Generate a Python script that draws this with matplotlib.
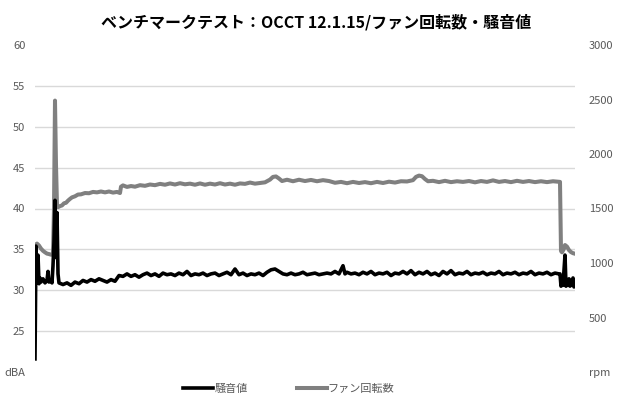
import matplotlib
matplotlib.use("Agg")
import matplotlib.pyplot as plt

plt.rcParams['font.family'] = ['Noto Sans CJK JP', 'DejaVu Sans']

title = "ベンチマークテスト：OCCT 12.1.15/ファン回転数・騒音値"
noise_label = "騒音値"
fan_label = "ファン回転数"

# left axis (dBA) ticks and right axis (rpm) ticks
db_ticks = [20, 25, 30, 35, 40, 45, 50, 55, 60]
db_ticklabels = ["dBA", "25", "30", "35", "40", "45", "50", "55", "60"]
rpm_ticks = [0, 500, 1000, 1500, 2000, 2500, 3000]
rpm_ticklabels = ["rpm", "500", "1000", "1500", "2000", "2500", "3000"]

# fan speed (rpm) over time
fan_t = [0, 1, 2, 4, 6, 8, 10, 12, 14, 16, 18, 19, 20, 21, 22, 23, 25, 27, 29, 31,
         33, 35, 37, 40, 43, 46, 50, 54, 58, 62, 66, 70, 74, 78, 82, 85, 86, 88, 92, 96,
         100, 105, 110, 115, 120, 125, 130, 135, 140, 145, 150, 155, 160, 165, 170, 175, 180, 185, 190, 195,
         200, 205, 210, 215, 220, 225, 230, 235, 238, 241, 244, 247, 252, 258, 264, 270, 276, 282, 288, 294,
         300, 306, 312, 318, 324, 330, 336, 342, 348, 354, 360, 366, 372, 378, 381, 384, 387, 390, 393, 398,
         404, 410, 416, 422, 428, 434, 440, 446, 452, 458, 464, 470, 476, 482, 488, 494, 500, 506, 512, 518,
         524, 525, 526, 527, 529, 530, 532, 534, 536, 538, 540]
fan_rpm = [1150, 1170, 1178, 1160, 1132, 1112, 1098, 1086, 1082, 1076, 1080, 1500, 2490, 1900, 1530, 1512, 1522, 1528, 1548, 1552,
           1572, 1588, 1602, 1612, 1628, 1630, 1642, 1640, 1652, 1648, 1656, 1648, 1656, 1646, 1652, 1642, 1700, 1712, 1698, 1706,
           1700, 1714, 1708, 1720, 1714, 1726, 1718, 1730, 1720, 1732, 1722, 1728, 1718, 1730, 1718, 1728, 1720, 1732, 1720, 1728,
           1718, 1730, 1726, 1738, 1728, 1734, 1740, 1765, 1790, 1794, 1775, 1752, 1764, 1750, 1764, 1752, 1762, 1750, 1760, 1752,
           1736, 1744, 1732, 1744, 1734, 1742, 1732, 1744, 1734, 1746, 1738, 1750, 1748, 1760, 1790, 1802, 1796, 1770, 1750, 1754,
           1742, 1754, 1742, 1750, 1744, 1752, 1740, 1752, 1744, 1758, 1744, 1752, 1742, 1754, 1744, 1752, 1742, 1750, 1742, 1750,
           1744, 1744, 1110, 1098, 1132, 1165, 1150, 1118, 1100, 1090, 1085]

# noise level (dBA) over time
noise_t = [0, 1, 2, 3, 4, 5, 6, 8, 10, 12, 13, 14, 16, 17, 18, 19, 20, 21, 22, 23,
           24, 28, 32, 36, 40, 44, 48, 52, 56, 60, 64, 68, 72, 76, 80, 84, 88, 92, 96, 100,
           104, 108, 112, 116, 120, 124, 128, 132, 136, 140, 144, 148, 152, 156, 160, 164, 168, 172, 176, 180,
           184, 188, 192, 196, 200, 204, 208, 212, 216, 220, 224, 228, 232, 236, 240, 244, 248, 252, 256, 260,
           264, 268, 272, 276, 280, 284, 288, 292, 296, 300, 304, 308, 310, 312, 316, 320, 324, 328, 332, 336,
           340, 344, 348, 352, 356, 360, 364, 368, 372, 376, 380, 384, 388, 392, 396, 400, 404, 408, 412, 416,
           420, 424, 428, 432, 436, 440, 444, 448, 452, 456, 460, 464, 468, 472, 476, 480, 484, 488, 492, 496,
           500, 504, 508, 512, 516, 520, 524, 525, 526, 527, 528, 529, 530, 531, 532, 533, 534, 535, 536, 537,
           538, 539, 540]
noise_db = [21.6, 35.4, 31.0, 34.3, 30.8, 31.5, 31.0, 31.4, 30.9, 31.2, 32.3, 31.0, 31.2, 30.9, 33.0, 36.0, 41.0, 34.0, 39.5, 32.0,
            30.9, 30.7, 30.9, 30.6, 31.0, 30.8, 31.2, 31.0, 31.3, 31.1, 31.4, 31.2, 31.0, 31.3, 31.1, 31.8, 31.7, 32.0, 31.7, 31.9,
            31.6, 31.9, 32.1, 31.8, 32.0, 31.7, 32.1, 31.9, 32.0, 31.8, 32.1, 31.9, 32.3, 31.8, 32.0, 31.9, 32.1, 31.8, 32.0, 32.1,
            31.8, 32.0, 32.2, 31.9, 32.6, 31.9, 32.1, 31.8, 32.0, 31.9, 32.1, 31.8, 32.2, 32.5, 32.6, 32.3, 32.0, 31.9, 32.1, 31.9,
            32.0, 32.2, 31.9, 32.0, 32.1, 31.9, 32.0, 32.1, 32.0, 32.3, 32.0, 33.0, 32.0, 32.2, 32.0, 32.1, 31.9, 32.2, 32.0, 32.3,
            31.9, 32.1, 32.0, 32.2, 31.8, 32.1, 32.0, 32.3, 32.0, 32.4, 31.9, 32.2, 32.0, 32.3, 31.9, 32.1, 31.8, 32.3, 32.0, 32.4,
            31.9, 32.1, 32.0, 32.3, 31.9, 32.1, 32.0, 32.2, 31.9, 32.1, 32.0, 32.3, 31.9, 32.1, 32.0, 32.2, 31.9, 32.1, 32.0, 32.3,
            31.9, 32.1, 32.0, 32.2, 31.9, 32.1, 32.0, 32.0, 30.5, 31.5, 30.6, 32.5, 34.3, 30.5, 31.3, 30.6, 31.4, 30.5, 31.2, 30.6,
            31.5, 30.4, 31.2]

TXT = "#595959"
fig = plt.figure(figsize=(6.2, 4.0), dpi=100)
ax = fig.add_axes([35 / 620, 28 / 400, 540 / 620, 327 / 400])
ax2 = ax.twinx()

ax.set_xlim(0, 540)
ax.set_ylim(20, 60)
ax2.set_ylim(0, 3000)

for a in (ax, ax2):
    for s in a.spines.values():
        s.set_visible(False)
    a.tick_params(length=0, colors=TXT, labelsize=8)
ax.set_xticks([])

ax.set_yticks(db_ticks)
ax.set_yticklabels(db_ticklabels)
ax.tick_params(axis='y', pad=7)
ax2.set_yticks(rpm_ticks)
ax2.set_yticklabels(rpm_ticklabels)
ax2.tick_params(axis='y', pad=10)

ax.grid(axis='y', color='#d9d9d9', linewidth=1.0)
gl = ax.get_ygridlines()
gl[0].set_visible(False)
gl[-1].set_visible(False)

# gray fan line drawn in ax using ax2 data coordinates so black sits on top
fan_line, = ax.plot(fan_t, fan_rpm, color='#808080', linewidth=2.9,
                    transform=ax2.transData, zorder=2, solid_joinstyle='round')
noise_line, = ax.plot(noise_t, noise_db, color='#000000', linewidth=2.6, zorder=3,
                      solid_joinstyle='round')

fig.text(0.51, 0.945, title, ha='center', va='center', fontsize=11.5, fontweight='bold', color='#000000')

leg = fig.legend([noise_line, fan_line], [noise_label, fan_label], loc='center',
                 bbox_to_anchor=(0.466, 0.028), ncol=2, frameon=False, fontsize=8,
                 handlelength=2.7, handletextpad=0.1, columnspacing=4.4, labelcolor=TXT)

fig.savefig("out.png", dpi=100)
